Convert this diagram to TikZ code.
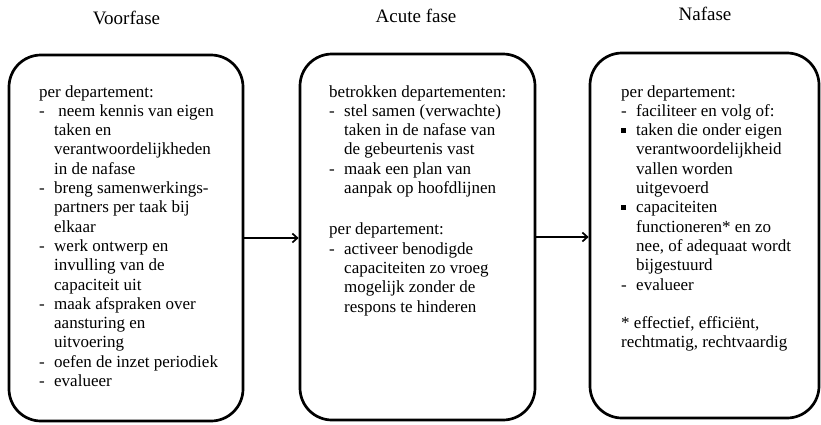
\documentclass[tikz,border=0pt]{standalone}
\usepackage{fontspec}
\setmainfont{Liberation Serif}
\usetikzlibrary{arrows.meta}

% list markers with a hanging indent
\newcommand\dashitem{\makebox[15pt][l]{-}}
\newcommand\blockitem{\makebox[15pt][l]{\rule[3pt]{4.5pt}{4.5pt}}}
\newcommand\hangin{\hspace*{15pt}}

\tikzset{
  phase/.style={draw, line width=2.7pt, rounded corners=32pt, inner sep=0pt},
  phasetitle/.style={font=\fontsize{19pt}{22pt}\selectfont, inner sep=0pt},
  phasetext/.style={font=\fontsize{17pt}{19.3pt}\selectfont, align=left, inner sep=0pt},
  flow/.style={->, line width=1.7pt}
}

\begin{document}
\begin{tikzpicture}[x=1pt, y=-1pt, >={Straight Barb[length=5pt,width=9pt]}]

    % 1. Canvas with the size of the reference
    \useasboundingbox (0,0) rectangle (821,424);

    % 2. The three phase boxes
    \node[phase, minimum width=234pt, minimum height=366pt] (voor) at (126,238) {};
    \node[phase, minimum width=235pt, minimum height=366pt] (acuut) at (417.5,237) {};
    \node[phase, minimum width=229pt, minimum height=365pt] (na) at (704.5,235.5) {};

    % 3. Titles above the boxes
    \node[phasetitle, anchor=base] (voortitel) at (126.5,24) {Voorfase};
    \node[phasetitle, anchor=base] (acuuttitel) at (416,22) {Acute fase};
    \node[phasetitle, anchor=base] (natitel) at (705,20) {Nafase};

    % 4. Contents of each phase
    \node[phasetext, anchor=north west] (voortekst) at (39,85) {%
      per departement:\\
      \dashitem\ neem kennis van eigen\\
      \hangin taken en\\
      \hangin verantwoordelijkheden\\
      \hangin in de nafase\\
      \dashitem breng samenwerkings-\\
      \hangin partners per taak bij\\
      \hangin elkaar\\
      \dashitem werk ontwerp en\\
      \hangin invulling van de\\
      \hangin capaciteit uit\\
      \dashitem maak afspraken over\\
      \hangin aansturing en\\
      \hangin uitvoering\\
      \dashitem oefen de inzet periodiek\\
      \dashitem evalueer};

    \node[phasetext, anchor=north west] (acuuttekst) at (329,85) {%
      betrokken departementen:\\
      \dashitem stel samen (verwachte)\\
      \hangin taken in de nafase van\\
      \hangin de gebeurtenis vast\\
      \dashitem maak een plan van\\
      \hangin aanpak op hoofdlijnen\\[22pt]
      per departement:\\
      \dashitem activeer benodigde\\
      \hangin capaciteiten zo vroeg\\
      \hangin mogelijk zonder de\\
      \hangin respons te hinderen};

    \node[phasetext, anchor=north west] (natekst) at (621,85) {%
      per departement:\\
      \dashitem faciliteer en volg of:\\
      \blockitem taken die onder eigen\\
      \hangin verantwoordelijkheid\\
      \hangin vallen worden\\
      \hangin uitgevoerd\\
      \blockitem capaciteiten\\
      \hangin functioneren* en zo\\
      \hangin nee, of adequaat wordt\\
      \hangin bijgestuurd\\
      \dashitem evalueer\\[19.3pt]
      * effectief, efficiënt,\\
      rechtmatig, rechtvaardig};

    % 5. Flow from one phase to the next
    \draw[flow] (voor.east) -- (voor.east -| acuut.west);
    \draw[flow] (acuut.east) -- (acuut.east -| na.west);

  \end{tikzpicture}
\end{document}
